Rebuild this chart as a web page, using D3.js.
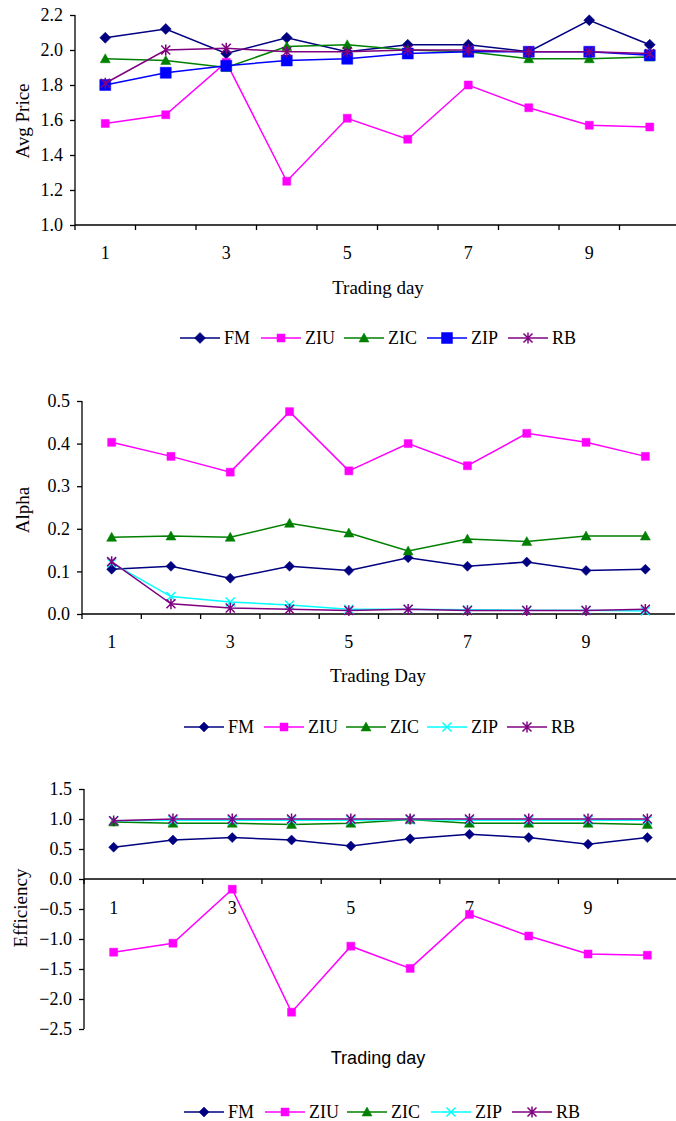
<!DOCTYPE html>
<html><head><meta charset="utf-8">
<script src="https://cdn.jsdelivr.net/npm/d3@7"></script>
<style>
body{margin:0;background:#fff;}
svg{display:block;}
text{fill:#000;}
</style></head>
<body>
<svg id="c" width="676" height="1121"></svg>
<script>
const days = [1,2,3,4,5,6,7,8,9,10];
const dayLabels = ["1","","3","","5","","7","","9",""];
const seriesNames = ["FM","ZIU","ZIC","ZIP","RB"];

const priceFM  = [2.07, 2.12, 1.98, 2.07, 1.99, 2.03, 2.03, 1.99, 2.17, 2.03];
const priceZIU = [1.58, 1.63, 1.93, 1.25, 1.61, 1.49, 1.80, 1.67, 1.57, 1.56];
const priceZIC = [1.95, 1.94, 1.90, 2.02, 2.03, 2.00, 1.99, 1.95, 1.95, 1.96];
const priceZIP = [1.80, 1.87, 1.91, 1.94, 1.95, 1.98, 1.99, 1.99, 1.99, 1.97];
const priceRB  = [1.81, 2.00, 2.01, 1.99, 1.99, 2.00, 2.00, 1.99, 1.99, 1.98];
const priceTicks = [1.0, 1.2, 1.4, 1.6, 1.8, 2.0, 2.2];

const alphaFM  = [0.105, 0.112, 0.084, 0.112, 0.102, 0.132, 0.112, 0.122, 0.102, 0.105];
const alphaZIU = [0.403, 0.370, 0.333, 0.475, 0.336, 0.400, 0.348, 0.424, 0.403, 0.370];
const alphaZIC = [0.180, 0.183, 0.180, 0.213, 0.190, 0.148, 0.176, 0.170, 0.183, 0.183];
const alphaZIP = [0.120, 0.041, 0.028, 0.021, 0.011, 0.011, 0.010, 0.009, 0.009, 0.007];
const alphaRB  = [0.123, 0.024, 0.014, 0.011, 0.008, 0.011, 0.008, 0.008, 0.008, 0.011];
const alphaTicks = [0.0, 0.1, 0.2, 0.3, 0.4, 0.5];

const effFM  = [0.53, 0.65, 0.69, 0.65, 0.55, 0.67, 0.745, 0.69, 0.58, 0.69];
const effZIU = [-1.22, -1.07, -0.17, -2.22, -1.12, -1.49, -0.59, -0.95, -1.25, -1.27];
const effZIC = [0.95, 0.93, 0.93, 0.91, 0.93, 0.99, 0.93, 0.93, 0.93, 0.91];
const effZIP = [0.97, 0.98, 0.98, 0.98, 0.98, 0.99, 0.98, 0.98, 0.98, 0.98];
const effRB  = [0.97, 1.00, 1.00, 1.00, 1.00, 1.00, 1.00, 1.00, 1.00, 1.00];
const effTicks = [-2.5, -2.0, -1.5, -1.0, -0.5, 0.0, 0.5, 1.0, 1.5];

const svg = d3.select("#c");
const SERIF = '"Liberation Serif","Times New Roman",serif';
const SANS = '"Liberation Sans",Arial,sans-serif';

function markerPath(type, s) {
  const h = s / 2;
  switch (type) {
    case "diamond": return `M0,${-h}L${h},0L0,${h}L${-h},0Z`;
    case "square": return `M${-h},${-h}H${h}V${h}H${-h}Z`;
    case "triangle": return `M0,${-h}L${h},${h*0.8}L${-h},${h*0.8}Z`;
    case "x": return `M${-h},${-h}L${h},${h}M${h},${-h}L${-h},${h}`;
    case "star": return `M${-h},${-h}L${h},${h}M${h},${-h}L${-h},${h}M0,${-h*1.2}V${h*1.2}`;
  }
}

function drawMarker(g, type, color, size, x, y) {
  const filled = type === "diamond" || type === "square" || type === "triangle";
  g.append("path")
    .attr("d", markerPath(type, size))
    .attr("transform", `translate(${x},${y})`)
    .attr("fill", filled ? color : "none")
    .attr("stroke", color)
    .attr("stroke-width", filled ? 0.5 : 1.5);
}

function drawChart(cfg) {
  const g = svg.append("g");
  const x = d3.scaleBand().domain(days).range([cfg.x0, cfg.x0 + cfg.step * days.length]).padding(0);
  const y = d3.scaleLinear().domain(cfg.yDomain).range(cfg.yRange);
  const cx = d => x(d) + x.bandwidth() / 2;

  // y axis
  const yAxis = d3.axisLeft(y).tickValues(cfg.yTicks).tickFormat(d3.format(".1f")).tickSize(5).tickPadding(7);
  const ya = g.append("g").attr("transform", `translate(${cfg.x0},0)`).call(yAxis);
  ya.select(".domain").attr("d", `M0,${y(cfg.yDomain[1])}V${y(cfg.yDomain[0])}`);
  ya.selectAll("text").style("font-family", SERIF).style("font-size", "18px").attr("fill", "#000");
  ya.selectAll("line,path").attr("stroke", "#000").attr("stroke-width", 1.3);

  // x axis (ticks at category boundaries)
  const xLine = y(cfg.xAt);
  const xa = g.append("g");
  xa.append("line").attr("x1", cfg.x0).attr("x2", Math.min(676, cfg.x0 + cfg.step * days.length))
    .attr("y1", xLine).attr("y2", xLine).attr("stroke", "#000").attr("stroke-width", 1.3);
  days.forEach(d => {
    xa.append("line").attr("x1", x(d)).attr("x2", x(d)).attr("y1", xLine).attr("y2", xLine + 5)
      .attr("stroke", "#000").attr("stroke-width", 1.3);
  });
  days.forEach((d, i) => {
    if (dayLabels[i]) {
      xa.append("text").attr("x", cx(d)).attr("y", xLine + cfg.labelDy)
        .attr("text-anchor", "middle").attr("dominant-baseline", "central")
        .style("font-family", SERIF).style("font-size", "18px").text(dayLabels[i]);
    }
  });

  // series
  cfg.series.forEach(s => {
    const line = d3.line().x((v, i) => cx(days[i])).y(v => y(v));
    g.append("path").attr("d", line(s.values)).attr("fill", "none")
      .attr("stroke", s.color).attr("stroke-width", 1.5);
    s.values.forEach((v, i) => drawMarker(g, s.marker, s.color, s.size, cx(days[i]), y(v)));
  });

  // titles
  g.append("text").attr("x", cfg.xTitleX).attr("y", cfg.xTitleY)
    .attr("text-anchor", "middle").attr("dominant-baseline", "central")
    .style("font-size", cfg.xTitleSans ? "18px" : "19px")
    .style("font-family", cfg.xTitleSans ? SANS : SERIF)
    .text(cfg.xTitle);
  g.append("text").attr("transform", `translate(${cfg.yTitleX},${cfg.yTitleY}) rotate(-90)`)
    .attr("text-anchor", "middle").attr("dominant-baseline", "central")
    .style("font-family", SERIF).style("font-size", "19px").text(cfg.yTitle);

  // legend
  const lg = g.append("g");
  cfg.series.forEach((s, i) => {
    const lx = cfg.legendX[i];
    const ly = cfg.legendY;
    lg.append("line").attr("x1", lx).attr("x2", lx + 40).attr("y1", ly).attr("y2", ly)
      .attr("stroke", s.color).attr("stroke-width", 1.5);
    drawMarker(lg, s.marker, s.color, s.legendSize || s.size, lx + 20, ly);
    lg.append("text").attr("x", lx + 44).attr("y", ly).attr("dominant-baseline", "central")
      .style("font-family", SERIF).style("font-size", "18px").text(seriesNames[i]);
  });
}

const colFM = "#000080", colZIU = "#FF00FF", colZIC = "#008000", colZIPb = "#0000FF", colZIPc = "#00FFFF", colRB = "#800080";

drawChart({
  x0: 75, step: 60.5, yDomain: [1.0, 2.2], yRange: [225, 15], yTicks: priceTicks, xAt: 1.0, labelDy: 28,
  xTitle: "Trading day", xTitleX: 378, xTitleY: 287, yTitle: "Avg Price", yTitleX: 22, yTitleY: 121,
  legendX: [180, 261, 344, 427, 508], legendY: 338,
  series: [
    {values: priceFM, color: colFM, marker: "diamond", size: 11},
    {values: priceZIU, color: colZIU, marker: "square", size: 8},
    {values: priceZIC, color: colZIC, marker: "triangle", size: 10},
    {values: priceZIP, color: colZIPb, marker: "square", size: 11},
    {values: priceRB, color: colRB, marker: "star", size: 9}
  ]
});

drawChart({
  x0: 82, step: 59.3, yDomain: [0.0, 0.5], yRange: [614, 401], yTicks: alphaTicks, xAt: 0.0, labelDy: 28,
  xTitle: "Trading Day", xTitleX: 378, xTitleY: 675, yTitle: "Alpha", yTitleX: 22, yTitleY: 510,
  legendX: [184, 264, 346, 427, 507], legendY: 727,
  series: [
    {values: alphaFM, color: colFM, marker: "diamond", size: 10},
    {values: alphaZIU, color: colZIU, marker: "square", size: 8},
    {values: alphaZIC, color: colZIC, marker: "triangle", size: 10},
    {values: alphaZIP, color: colZIPc, marker: "x", size: 9},
    {values: alphaRB, color: colRB, marker: "star", size: 9}
  ]
});

drawChart({
  x0: 84, step: 59.3, yDomain: [-2.5, 1.5], yRange: [1029, 789], yTicks: effTicks, xAt: 0.0, labelDy: 29,
  xTitle: "Trading day", xTitleSans: true, xTitleX: 378, xTitleY: 1058, yTitle: "Efficiency", yTitleX: 20, yTitleY: 908,
  legendX: [184, 265, 347, 431, 512], legendY: 1112,
  series: [
    {values: effFM, color: colFM, marker: "diamond", size: 10},
    {values: effZIU, color: colZIU, marker: "square", size: 8},
    {values: effZIC, color: colZIC, marker: "triangle", size: 10},
    {values: effZIP, color: colZIPc, marker: "x", size: 9},
    {values: effRB, color: colRB, marker: "star", size: 9}
  ]
});
</script>
</body></html>
